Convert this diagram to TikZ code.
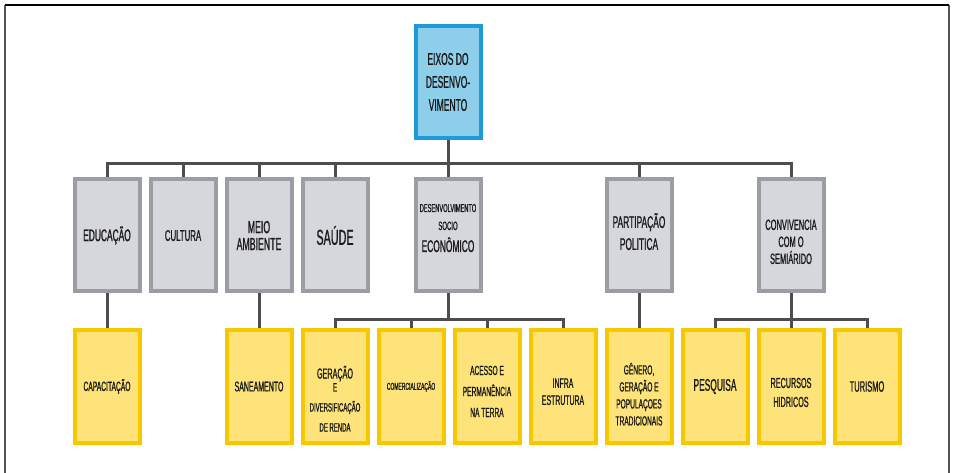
\documentclass[tikz,border=0pt]{standalone}
\usepackage{fontspec}
\setmainfont{Liberation Sans}[FakeStretch=0.5, FakeBold=0.8]
\usetikzlibrary{positioning, backgrounds}

\definecolor{rootline}{HTML}{1E9AD6}
\definecolor{rootfill}{HTML}{8DCFEA}
\definecolor{eixoline}{HTML}{9B9DA4}
\definecolor{eixofill}{HTML}{D6D7DC}
\definecolor{acaoline}{HTML}{F7C800}
\definecolor{acaofill}{HTML}{FDE379}
\definecolor{linkgray}{HTML}{4D4D4F}
\definecolor{framegray}{HTML}{555555}

\newcommand{\fs}[2]{\fontsize{#1}{#2}\selectfont}
% struts to nudge text up or down inside a box
\newcommand{\topgap}[1]{\rule{0pt}{#1}}
\newcommand{\botgap}[1]{\rule[-#1]{0pt}{#1}}

\begin{document}
\begin{tikzpicture}[
    x=1pt, y=-1pt, node distance=7pt,
    box/.style={draw, line width=4pt, minimum width=65pt, minimum height=112pt,
                inner sep=1pt, align=center, text=black!90},
    root/.style={box, draw=rootline, fill=rootfill},
    eixo/.style={box, draw=eixoline, fill=eixofill},
    acao/.style={box, draw=acaoline, fill=acaofill},
    link/.style={draw=linkgray, line width=3pt}
]
    \useasboundingbox (0,0) rectangle (954,473);

    % moldura
    \draw[line width=1.5pt, framegray] (5,473) -- (5,5);
    \draw[line width=1.5pt, framegray] (949,5) -- (949,473);
    \draw[line width=1.5pt] (5,5) -- (949,5);

    \node[root, font=\fs{17}{23}] (eixos) at (448,82) {EIXOS DO\\DESENVO-\\VIMENTO};

    % linha de baixo
    \node[acao, font=\fs{13.4}{14}] (capac)  at (107,386.5) {CAPACITAÇÃO};
    \node[acao, font=\fs{14}{14}]   (saneam) at (259,386.5) {SANEAMENTO};
    \node[acao, right=of saneam, font=\fs{12}{20}] (geracao)
        {\fs{14.4}{20}\topgap{37pt}GERAÇÃO\\[-7pt]\fs{12}{20}E\\\fs{12}{20}DIVERSIFICAÇÃO\\\fs{12}{20}DE RENDA};
    \node[acao, right=of geracao, font=\fs{10}{10}]    (comerc)   {COMERCIALIZAÇÃO};
    \node[acao, right=of comerc, font=\fs{13.2}{21}]   (acesso)   {\topgap{19pt}ACESSO E\\PERMANÊNCIA\\NA TERRA};
    \node[acao, right=of acesso, font=\fs{13.8}{17}]   (infra)    {\topgap{20pt}INFRA\\ESTRUTURA};
    \node[acao, right=of infra, font=\fs{13.2}{17}]    (genero)   {\topgap{27pt}GÊNERO,\\GERAÇÃO E\\POPULAÇOES\\TRADICIONAIS};
    \node[acao, right=of genero, font=\fs{16.8}{16}]   (pesquisa) {PESQUISA};
    \node[acao, right=of pesquisa, font=\fs{14.4}{19}] (recursos) {\topgap{22pt}RECURSOS\\HIDRICOS};
    \node[acao, right=of recursos, font=\fs{15}{15}]   (turismo)  {TURISMO};

    % eixos
    \node[eixo, above=35pt of capac, font=\fs{16.8}{16}]    (educ)    {EDUCAÇÃO};
    \node[eixo, right=of educ, font=\fs{15.6}{16}]          (cultura) {CULTURA};
    \node[eixo, above=35pt of saneam, font=\fs{17.5}{17}]   (meio)    {MEIO\\AMBIENTE};
    \node[eixo, right=of meio, font=\fs{21.6}{20}]          (saude)   {SAÚDE};
    \node[eixo, font=\fs{12}{18}] (desenv) at (448,235)
        {\fs{11.4}{18}DESENVOLVIMENTO\\\fs{12}{18}SOCIO\\[4pt]\fs{16.8}{18}ECONÔMICO\botgap{14pt}};
    \node[eixo, above=35pt of genero, font=\fs{16.8}{22}]   (partip)  {PARTIPAÇÃO\\POLITICA\botgap{8pt}};
    \node[eixo, above=35pt of recursos, font=\fs{14.9}{17}] (conviv)  {\topgap{23pt}CONVIVENCIA\\COM O\\SEMIÁRIDO};

    \coordinate (barra)  at (448,164);
    \coordinate (barrab) at (448,320);

    \begin{scope}[on background layer]
        \draw[link] (eixos.south) -- (eixos.south |- barra);
        \draw[link] (educ.north) |- (barra) -| (conviv.north);
        \foreach \n in {cultura, meio, saude, desenv, partip}
            \draw[link] (\n.north) -- (\n.north |- barra);

        \draw[link] (educ) -- (capac);
        \draw[link] (meio) -- (saneam);
        \draw[link] (partip) -- (genero);
        \draw[link] (conviv) -- (recursos);

        \draw[link] (desenv.south) -- (desenv.south |- barrab);
        \draw[link] (geracao.north) |- (barrab) -| (infra.north);
        \foreach \n in {comerc, acesso}
            \draw[link] (\n.north) -- (\n.north |- barrab);

        \draw[link] (pesquisa.north) |- (conviv.south |- barrab) -| (turismo.north);
    \end{scope}
\end{tikzpicture}
\end{document}
